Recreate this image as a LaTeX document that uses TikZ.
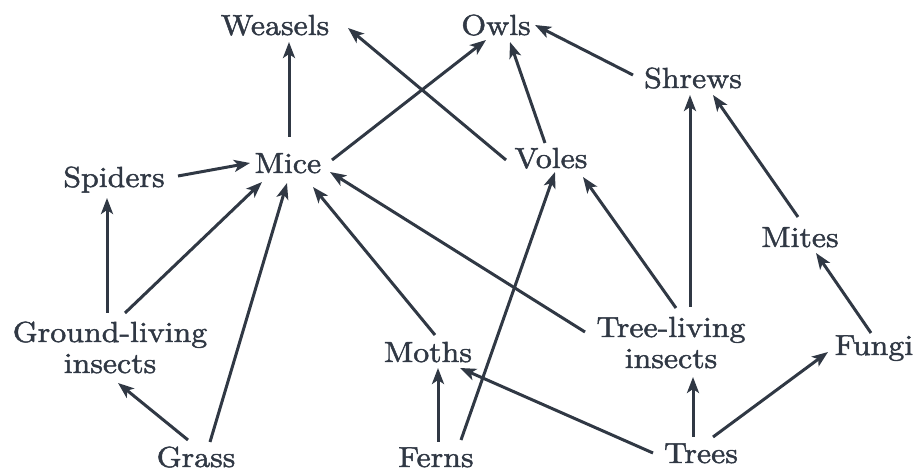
\documentclass[tikz,border=0pt]{standalone}
\usepackage{fontspec}
\setmainfont{lmroman10-regular.otf}[FakeStretch=1.1,FakeBold=1.6]
\usetikzlibrary{calc,arrows.meta}
\definecolor{ink}{RGB}{48,56,68}
\tikzset{
  lbl/.style={inner sep=0pt,anchor=base,text=ink,font=\fontsize{14.5}{15.5}\selectfont,align=center},
  arr/.style={draw=ink,line width=1.5pt,-{Stealth[length=8pt,width=6pt,inset=2pt]}}
}
\begin{document}
\begin{tikzpicture}[x=0.5pt,y=-0.5pt]
\useasboundingbox (0,0) rectangle (917,475);
\node[lbl] (weasels) at (275,35) {Weasels};
\node[lbl] (owls) at (496,35) {Owls};
\node[lbl] (shrews) at (693,88) {Shrews};
\node[lbl] (spiders) at (114,187) {Spiders};
\node[lbl] (mice) at (288,173) {Mice};
\node[lbl] (voles) at (551,168) {Voles};
\node[lbl] (mites) at (800,247) {Mites};
\node[lbl] (moths) at (428,362) {Moths};
\node[lbl] (fungi) at (874,355) {Fungi};
\node[lbl] (grass) at (196,467) {Grass};
\node[lbl] (ferns) at (436,467) {Ferns};
\node[lbl] (trees) at (701,463) {Trees};
\node[lbl] (ground) at (110,373) {Ground-living\\insects};
\node[lbl] (treeliv) at (671,368) {Tree-living\\insects};

\draw[arr] ($(mice.base)+(1,-36)$) -- ($(weasels.base)+(14,7)$);
\draw[arr] ($(voles.base)+(-45,-8)$) -- ($(weasels.base)+(73,-7)$);
\draw[arr] ($(mice.base)+(44,-13)$) -- ($(owls.base)+(-10,5)$);
\draw[arr] ($(voles.base)+(-6,-25)$) -- ($(owls.base)+(14,7)$);
\draw[arr] ($(shrews.base)+(-60,-13)$) -- ($(owls.base)+(39,-10)$);
\draw[arr] ($(spiders.base)+(64,-11)$) -- ($(mice.base)+(-38,-10)$);
\draw[arr] ($(ground.base)+(-3,-60)$) -- ($(spiders.base)+(-7,11)$);
\draw[arr] ($(ground.base)+(15,-60)$) -- ($(mice.base)+(-26,9)$);
\draw[arr] ($(grass.base)+(-8,-27)$) -- ($(ground.base)+(8,10)$);
\draw[arr] ($(grass.base)+(14,-25)$) -- ($(mice.base)+(-1,10)$);
\draw[arr] ($(moths.base)+(7,-27)$) -- ($(mice.base)+(25,14)$);
\draw[arr] ($(treeliv.base)+(-86,-36)$) -- ($(mice.base)+(42,-1)$);
\draw[arr] ($(treeliv.base)+(5,-60)$) -- ($(voles.base)+(32,9)$);
\draw[arr] ($(treeliv.base)+(19,-61)$) -- ($(shrews.base)+(-3,7)$);
\draw[arr] ($(mites.base)+(-2,-30)$) -- ($(shrews.base)+(20,7)$);
\draw[arr] ($(ferns.base)+(25,-27)$) -- ($(voles.base)+(4,4)$);
\draw[arr] ($(ferns.base)+(2,-25)$) -- ($(moths.base)+(10,6)$);
\draw[arr] ($(trees.base)+(-48,-10)$) -- ($(moths.base)+(32,6)$);
\draw[arr] ($(trees.base)+(-8,-26)$) -- ($(treeliv.base)+(22,9)$);
\draw[arr] ($(trees.base)+(12,-26)$) -- ($(fungi.base)+(-46,-3)$);
\draw[arr] ($(fungi.base)+(-3,-22)$) -- ($(mites.base)+(16,6)$);
\end{tikzpicture}
\end{document}
